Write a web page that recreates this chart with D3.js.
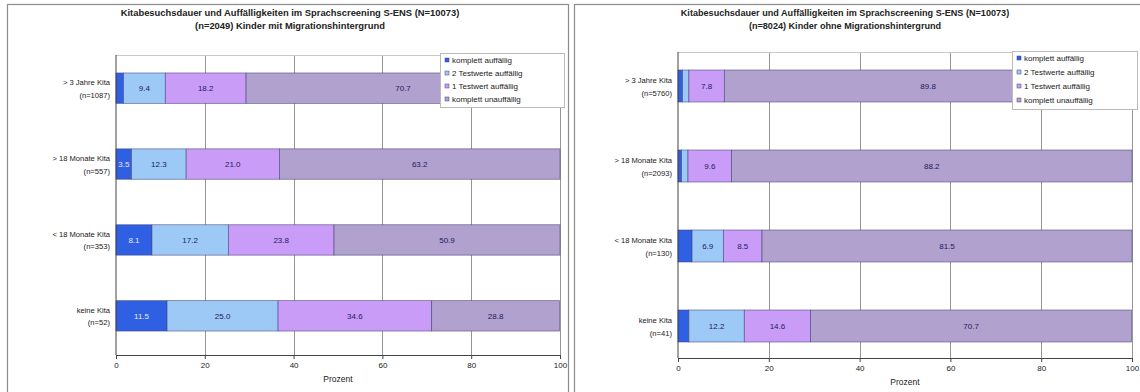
<!DOCTYPE html>
<html>
<head>
<meta charset="utf-8">
<script src="https://cdn.jsdelivr.net/npm/d3@7"></script>
<style>
  html, body { margin: 0; padding: 0; background: #fff; }
  svg { display: block; font-family: "Liberation Sans", Arial, sans-serif; }
</style>
</head>
<body>
<svg id="chart" width="1140" height="392"></svg>
<script>
// Kategorien (Kita-Besuchsdauer) und Anteile in Prozent
const seriesNames = ["komplett auffällig", "2 Testwerte auffällig", "1 Testwert auffällig", "komplett unauffällig"];
const seriesColors = ["#2f5fe3", "#9dc9f7", "#c99cf7", "#b1a1cf"];
const xTicks = [0, 20, 40, 60, 80, 100];

const catsMit = ["> 3 Jahre Kita|(n=1087)", "> 18 Monate Kita|(n=557)", "< 18 Monate Kita|(n=353)", "keine Kita|(n=52)"];
const mitAuffaellig  = [1.7, 3.5, 8.1, 11.5];
const mitZwei        = [9.4, 12.3, 17.2, 25.0];
const mitEins        = [18.2, 21.0, 23.8, 34.6];
const mitUnauff      = [70.7, 63.2, 50.9, 28.8];

const catsOhne = ["> 3 Jahre Kita|(n=5760)", "> 18 Monate Kita|(n=2093)", "< 18 Monate Kita|(n=130)", "keine Kita|(n=41)"];
const ohneAuffaellig = [1.0, 0.8, 3.1, 2.4];
const ohneZwei       = [1.4, 1.4, 6.9, 12.2];
const ohneEins       = [7.8, 9.6, 8.5, 14.6];
const ohneUnauff     = [89.8, 88.2, 81.5, 70.7];

const titleMit  = ["Kitabesuchsdauer und Auffälligkeiten im Sprachscreening S-ENS (N=10073)",
                   "(n=2049) Kinder mit Migrationshintergrund"];
const titleOhne = ["Kitabesuchsdauer und Auffälligkeiten im Sprachscreening S-ENS (N=10073)",
                   "(n=8024) Kinder ohne Migrationshintergrund"];

const svg = d3.select("#chart");

function panel(cfg) {
  const g = svg.append("g");
  // Rahmen des Diagrammbereichs
  g.append("rect")
    .attr("x", cfg.frame[0] + 0.5).attr("y", cfg.frame[1] + 0.5)
    .attr("width", cfg.frame[2]).attr("height", cfg.frame[3])
    .attr("fill", "#fff").attr("stroke", "#8c8c8c").attr("stroke-width", 1.2);

  // Titel
  cfg.title.forEach((t, i) => {
    g.append("text")
      .attr("x", cfg.titleX).attr("y", 16 + i * 13)
      .attr("text-anchor", "middle")
      .attr("font-size", cfg.titleSize).attr("font-weight", "bold").attr("fill", "#222")
      .text(t);
  });

  const x = d3.scaleLinear().domain([0, 100]).range([cfg.x0, cfg.x1]);
  const y = d3.scaleBand().domain(cfg.cats).range(cfg.yRange)
    .paddingInner(0.6).paddingOuter(0.25);

  // Gitterlinien
  g.append("g").selectAll("line").data(xTicks.slice(1))
    .join("line")
    .attr("x1", d => Math.round(x(d)) + 0.5).attr("x2", d => Math.round(x(d)) + 0.5)
    .attr("y1", cfg.top).attr("y2", cfg.axisY)
    .attr("stroke", "#8a8a8a").attr("stroke-width", 0.9);
  g.append("line")
    .attr("x1", cfg.x0).attr("x2", cfg.x1).attr("y1", cfg.top + 0.5).attr("y2", cfg.top + 0.5)
    .attr("stroke", "#c8c8c8");

  // gestapelte Balken
  const rows = cfg.cats.map((c, i) => cfg.values.map(s => s[i]));
  const stacked = d3.stack().keys(d3.range(4)).value((r, k) => r[k])(rows);
  stacked.forEach((layer, k) => {
    const lg = g.append("g");
    lg.selectAll("rect").data(layer).join("rect")
      .attr("x", d => x(d[0])).attr("width", d => x(d[1]) - x(d[0]))
      .attr("y", (d, i) => y(cfg.cats[i])).attr("height", y.bandwidth())
      .attr("fill", seriesColors[k])
      .attr("stroke", "#45457a").attr("stroke-width", 0.7).attr("stroke-opacity", 0.8);
    lg.selectAll("text").data(layer.filter(d => d[1] - d[0] >= 3.4)).join("text")
      .attr("x", d => (x(d[0]) + x(d[1])) / 2)
      .attr("y", d => y(cfg.cats[layer.indexOf(d)]) + y.bandwidth() / 2 + 3)
      .attr("text-anchor", "middle").attr("font-size", 8)
      .attr("fill", k === 0 ? "#e8ecff" : "#1c1c5e")
      .text(d => (d[1] - d[0]).toFixed(1));
  });

  // x-Achse
  const xAxis = g.append("g").attr("transform", `translate(0,${cfg.axisY})`)
    .call(d3.axisBottom(x).tickValues(xTicks).tickSize(4).tickFormat(d3.format("d")));
  xAxis.select(".domain").attr("stroke", "#444");
  xAxis.selectAll(".tick line").attr("stroke", "#444");
  xAxis.selectAll("text").attr("font-size", 8).attr("fill", "#222")
    .attr("font-family", "Liberation Sans, Arial, sans-serif");

  // y-Achse mit zweizeiligen Kategorien
  const yAxis = g.append("g").attr("transform", `translate(${cfg.x0},0)`)
    .call(d3.axisLeft(y).tickSize(0).tickFormat(""));
  yAxis.select(".domain").attr("d", `M0,${cfg.top}V${cfg.axisY}`).attr("stroke", "#444");
  cfg.cats.forEach(c => {
    const cy = y(c) + y.bandwidth() / 2;
    c.split("|").forEach((line, j) => {
      g.append("text")
        .attr("x", cfg.x0 - 6).attr("y", cy - 3 + j * 12.5)
        .attr("text-anchor", "end").attr("font-size", 7.6).attr("fill", "#1a1a1a")
        .text(line);
    });
  });

  // Achsentitel
  g.append("text").attr("x", (cfg.x0 + cfg.x1) / 2).attr("y", cfg.axisY + 27)
    .attr("text-anchor", "middle").attr("font-size", 8.5).attr("fill", "#222")
    .text("Prozent");

  // Legende
  const L = cfg.legend;
  g.append("rect").attr("x", L.x + 0.5).attr("y", L.y + 0.5)
    .attr("width", L.w).attr("height", L.h)
    .attr("fill", "#fff").attr("stroke", "#bbb");
  seriesNames.forEach((n, k) => {
    const ly = L.y + 10 + k * L.step;
    g.append("rect").attr("x", L.x + 5).attr("y", ly - 5).attr("width", 4).attr("height", 4)
      .attr("fill", seriesColors[k]).attr("stroke", "#45457a").attr("stroke-width", 0.5);
    g.append("text").attr("x", L.x + 12).attr("y", ly)
      .attr("font-size", 8).attr("fill", "#222").text(n);
  });
}

panel({
  frame: [7, 4, 561, 400], titleX: 290, titleSize: 9.4, title: titleMit,
  cats: catsMit, values: [mitAuffaellig, mitZwei, mitEins, mitUnauff],
  x0: 116, x1: 560, top: 55, axisY: 355, yRange: [54, 350],
  legend: { x: 440, y: 53, w: 124, h: 54, step: 13 }
});

panel({
  frame: [574, 4, 570, 400], titleX: 845, titleSize: 9.1, title: titleOhne,
  cats: catsOhne, values: [ohneAuffaellig, ohneZwei, ohneEins, ohneUnauff],
  x0: 678, x1: 1132, top: 52, axisY: 358, yRange: [50, 362],
  legend: { x: 1012, y: 51, w: 125, h: 58, step: 14 }
});
</script>
</body>
</html>
